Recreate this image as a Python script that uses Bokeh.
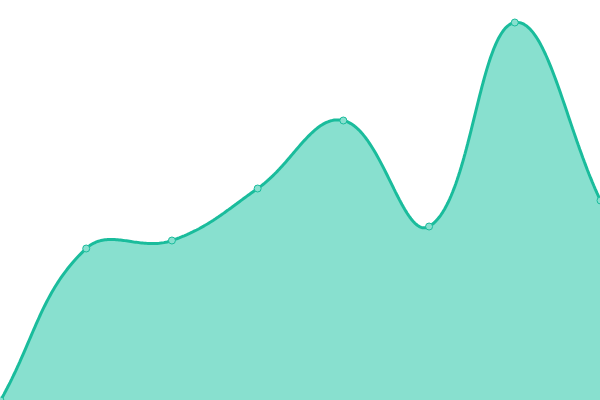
import numpy as np
from bokeh.plotting import figure
from bokeh.models import Range1d
from bokeh.embed import file_html
from bokeh.resources import INLINE

# data
labels = ["1", "2", "3", "4", "5", "6", "7", "8"]
values = [0, 38, 40, 53, 70, 43.5, 94.5, 50]

W, H = 600, 400
X_MAX, Y_MAX = len(values) - 1, 100
LINE = "#1abc9c"
FILL = "#88e0cf"
TENSION = 0.4

xs = np.arange(len(values), dtype=float)
ys = np.array(values, dtype=float)

# work in pixel space for Chart.js-like spline control points
sx, sy = W / X_MAX, H / Y_MAX
px, py = xs * sx, ys * sy
n = len(values)
cp_prev = np.zeros((n, 2))
cp_next = np.zeros((n, 2))
for i in range(n):
    prev = (px[max(i - 1, 0)], py[max(i - 1, 0)])
    cur = (px[i], py[i])
    nxt = (px[min(i + 1, n - 1)], py[min(i + 1, n - 1)])
    d01 = np.hypot(cur[0] - prev[0], cur[1] - prev[1])
    d12 = np.hypot(nxt[0] - cur[0], nxt[1] - cur[1])
    tot = d01 + d12
    s01 = d01 / tot if tot else 0
    s12 = d12 / tot if tot else 0
    fa, fb = TENSION * s01, TENSION * s12
    cp_prev[i] = (cur[0] - fa * (nxt[0] - prev[0]), cur[1] - fa * (nxt[1] - prev[1]))
    cp_next[i] = (cur[0] + fb * (nxt[0] - prev[0]), cur[1] + fb * (nxt[1] - prev[1]))
# cap inside area
cp_prev[:, 0] = np.clip(cp_prev[:, 0], 0, W); cp_prev[:, 1] = np.clip(cp_prev[:, 1], 0, H)
cp_next[:, 0] = np.clip(cp_next[:, 0], 0, W); cp_next[:, 1] = np.clip(cp_next[:, 1], 0, H)

cx, cy = [], []
t = np.linspace(0, 1, 60)
for i in range(n - 1):
    p0 = np.array([px[i], py[i]]); p3 = np.array([px[i + 1], py[i + 1]])
    c1 = cp_next[i]; c2 = cp_prev[i + 1]
    tt = t[:, None]
    pts = ((1 - tt) ** 3) * p0 + 3 * ((1 - tt) ** 2) * tt * c1 + 3 * (1 - tt) * tt ** 2 * c2 + tt ** 3 * p3
    if i > 0:
        pts = pts[1:]
    cx.extend(pts[:, 0] / sx); cy.extend(pts[:, 1] / sy)

p = figure(width=W, height=H, output_backend="svg", toolbar_location=None,
           x_range=Range1d(0, X_MAX), y_range=Range1d(0, Y_MAX),
           min_border=0, min_border_left=0, min_border_right=0,
           min_border_top=0, min_border_bottom=0)
p.axis.visible = False
p.grid.visible = False
p.outline_line_color = None
p.background_fill_color = "white"
p.border_fill_color = "white"

p.patch(x=[cx[0]] + cx + [cx[-1]], y=[0] + cy + [0], fill_color=FILL, line_color=None)
p.line(cx, cy, line_color=LINE, line_width=3)
p.scatter(xs, ys, size=7, fill_color=FILL, line_color=LINE, line_width=1)

html = file_html(p, INLINE)
html = html.replace("<head>", "<head><style>html,body{margin:0;padding:0;overflow:hidden}</style>", 1)
open("out.html", "w").write(html)
